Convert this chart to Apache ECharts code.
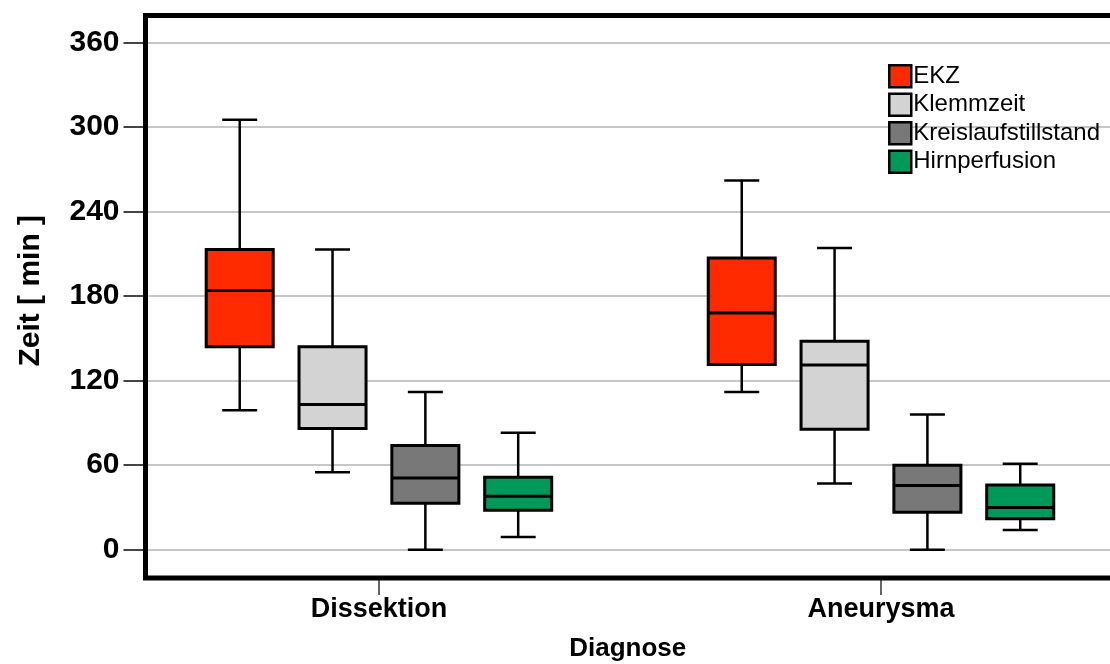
<!DOCTYPE html>
<html>
<head>
<meta charset="utf-8">
<script src="https://cdn.jsdelivr.net/npm/echarts@6/dist/echarts.min.js"></script>
<style>
  html, body { margin: 0; padding: 0; background: #fff; }
  #chart { width: 1110px; height: 664px; }
</style>
</head>
<body>
<div id="chart"></div>
<script>
// Diagnosis groups on the x axis
const diagnoses = ['Dissektion', 'Aneurysma'];
// Measured intervals (one box per interval and diagnosis)
const measures = ['EKZ', 'Klemmzeit', 'Kreislaufstillstand', 'Hirnperfusion'];
// Box statistics per diagnosis: [min, Q1, median, Q3, max] in minutes
const ekz = [[99, 144, 184, 213, 305], [112, 131.5, 168, 207, 262]];
const klemmzeit = [[55, 86, 103, 144, 213], [47, 85.5, 131, 148, 214]];
const kreislaufstillstand = [[0, 33, 51, 74, 112], [0, 26.7, 45.6, 60, 96]];
const hirnperfusion = [[9, 28, 38, 51.5, 83], [14, 22, 30, 46, 61]];
// Value axis ticks
const yTicks = [0, 60, 120, 180, 240, 300, 360];

const seriesValues = [ekz, klemmzeit, kreislaufstillstand, hirnperfusion];
const fills = ['#ff2a00', '#d3d3d3', '#787878', '#00995a'];

const FONT = '"Liberation Sans", Arial, Helvetica, sans-serif';
const BOX_STEP = 0.1849;   // distance between neighbouring boxes, in group units
const BOX_W = 0.1335;      // box width, in group units
const CAP_W = 0.0697;      // whisker cap width, in group units

function renderBox(params, api) {
  const k = params.seriesIndex;
  const xc = api.value(0) + (k - (measures.length - 1) / 2) * BOX_STEP;
  const unit = api.size([1, 0])[0];
  const bw = BOX_W * unit, cw = CAP_W * unit;
  const pMin = api.coord([xc, api.value(1)]);
  const pQ1 = api.coord([xc, api.value(2)]);
  const pMed = api.coord([xc, api.value(3)]);
  const pQ3 = api.coord([xc, api.value(4)]);
  const pMax = api.coord([xc, api.value(5)]);
  const x = pMed[0];
  const line = { stroke: '#000', lineWidth: 2.5 };
  return {
    type: 'group',
    children: [
      { type: 'line', shape: { x1: x, y1: pQ1[1], x2: x, y2: pMin[1] }, style: line },
      { type: 'line', shape: { x1: x, y1: pQ3[1], x2: x, y2: pMax[1] }, style: line },
      { type: 'line', shape: { x1: x - cw / 2, y1: pMin[1], x2: x + cw / 2, y2: pMin[1] }, style: line },
      { type: 'line', shape: { x1: x - cw / 2, y1: pMax[1], x2: x + cw / 2, y2: pMax[1] }, style: line },
      {
        type: 'rect',
        shape: { x: x - bw / 2, y: pQ3[1], width: bw, height: pQ1[1] - pQ3[1] },
        style: { fill: api.visual('color'), stroke: '#000', lineWidth: 3 }
      },
      { type: 'line', shape: { x1: x - bw / 2, y1: pMed[1], x2: x + bw / 2, y2: pMed[1] }, style: { stroke: '#000', lineWidth: 3 } }
    ]
  };
}

const chart = echarts.init(document.getElementById('chart'), null, { renderer: 'canvas' });

chart.setOption({
  animation: false,
  backgroundColor: '#fff',
  grid: {
    left: 145.5, top: 15.5, right: -22, bottom: 86,
    outerBoundsMode: 'none',
    show: true, borderColor: '#000', borderWidth: 5,
    backgroundColor: 'transparent', z: 5
  },
  legend: {
    orient: 'vertical', left: 888, top: 64, padding: 0,
    icon: 'rect', itemWidth: 22, itemHeight: 22, itemGap: 4,
    itemStyle: { borderColor: '#000', borderWidth: 2.5 },
    textStyle: { fontFamily: FONT, fontSize: 24, color: '#000', padding: [0, 0, 0, -3] },
    data: measures
  },
  xAxis: {
    type: 'value', min: -0.465, max: 1.5,
    name: 'Diagnose', nameLocation: 'middle', nameGap: 58,
    nameTextStyle: { fontFamily: FONT, fontSize: 26, fontWeight: 'bold', color: '#000', padding: [0, 22, 0, 0] },
    axisLine: { show: false, onZero: false },
    splitLine: { show: false },
    axisTick: { show: true, length: 17, customValues: [0, 1], lineStyle: { color: '#666', width: 2 } },
    axisLabel: {
      customValues: [0, 1], margin: 18,
      formatter: v => diagnoses[Math.round(v)] || '',
      fontFamily: FONT, fontSize: 27, fontWeight: 'bold', color: '#000'
    }
  },
  yAxis: {
    type: 'value', min: -20, max: 379,
    name: 'Zeit [ min ]', nameLocation: 'middle', nameGap: 100,
    nameTextStyle: { fontFamily: FONT, fontSize: 30, fontWeight: 'bold', color: '#000', padding: [0, 0, 0, 12] },
    axisLine: { show: false, onZero: false },
    axisTick: { show: true, length: 22, customValues: yTicks, lineStyle: { color: '#444', width: 2 } },
    axisLabel: {
      customValues: yTicks, margin: 26,
      fontFamily: FONT, fontSize: 30, fontWeight: 'bold', color: '#000'
    },
    splitLine: { show: true, lineStyle: { color: '#c6c6c6', width: 2 } }
  },
  series: measures.map((name, k) => ({
    name: name,
    type: 'custom',
    renderItem: renderBox,
    itemStyle: { color: fills[k] },
    encode: { x: 0, y: [1, 2, 3, 4, 5] },
    data: seriesValues[k].map((s, g) => [g].concat(s)),
    z: 2
  }))
});
</script>
</body>
</html>
